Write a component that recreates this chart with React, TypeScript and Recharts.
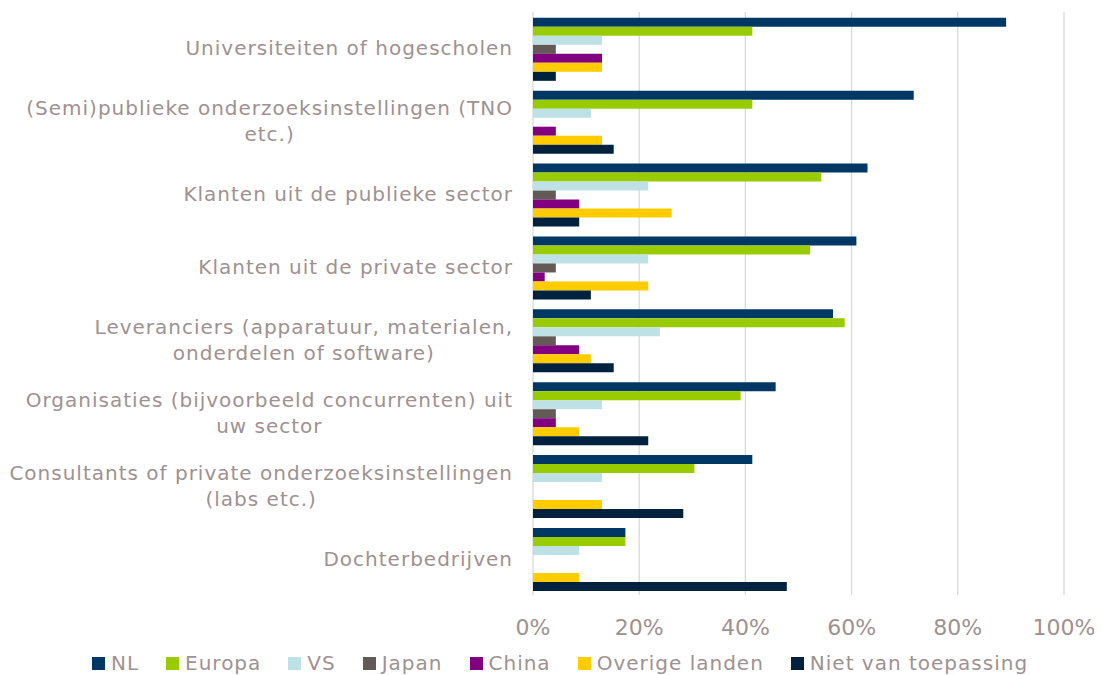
import React from 'react';
import { Bar, BarChart, CartesianGrid, Legend, XAxis, YAxis } from 'recharts';

const categories = [
  'Universiteiten of hogescholen',
  '(Semi)publieke onderzoeksinstellingen (TNO\netc.)',
  'Klanten uit de publieke sector',
  'Klanten uit de private sector',
  'Leveranciers (apparatuur, materialen,\nonderdelen of software)',
  'Organisaties (bijvoorbeeld concurrenten) uit\nuw sector',
  'Consultants of private onderzoeksinstellingen\n(labs etc.)',
  'Dochterbedrijven',
];

const seriesNames = ['NL', 'Europa', 'VS', 'Japan', 'China', 'Overige landen', 'Niet van toepassing'];
const seriesColors = ['#003865', '#99CC00', '#BDE1E4', '#635A57', '#800080', '#FFCC00', '#00223E'];

const nl = [89.1, 71.7, 63.0, 60.9, 56.5, 45.7, 41.3, 17.4];
const europa = [41.3, 41.3, 54.3, 52.2, 58.7, 39.1, 30.4, 17.4];
const vs = [13.0, 10.9, 21.7, 21.7, 23.9, 13.0, 13.0, 8.7];
const japan = [4.3, 0, 4.3, 4.3, 4.3, 4.3, 0, 0];
const china = [13.0, 4.3, 8.7, 2.2, 8.7, 4.3, 0, 0];
const overige = [13.0, 13.0, 26.1, 21.7, 10.9, 8.7, 13.0, 8.7];
const niet = [4.3, 15.2, 8.7, 10.9, 15.2, 21.7, 28.3, 47.8];

const xTicks = [0, 20, 40, 60, 80, 100];

const allSeries = [nl, europa, vs, japan, china, overige, niet];

const data = categories.map((name, i) => {
  const row: Record<string, string | number> = { name };
  seriesNames.forEach((s, j) => {
    row[s] = allSeries[j][i];
  });
  return row;
});

const textColor = '#9E9190';
const font = '"DejaVu Sans", Verdana, sans-serif';
const labelSize = 20;
const labelSpacing = 1;

let measureCtx: CanvasRenderingContext2D | null = null;
function textWidth(s: string) {
  if (!measureCtx) measureCtx = document.createElement('canvas').getContext('2d');
  if (!measureCtx) return s.length * labelSize * 0.6;
  measureCtx.font = `${labelSize}px "DejaVu Sans"`;
  return measureCtx.measureText(s).width + s.length * labelSpacing;
}

// multi-line labels: lines centred on each other, block right-aligned to the axis
function CategoryTick(props: any) {
  const { x, y, payload } = props;
  const lines = String(payload.value).split('\n');
  const lineHeight = 26;
  const startY = y - ((lines.length - 1) * lineHeight) / 2;
  const maxW = Math.max(...lines.map(textWidth));
  const cx = x - maxW / 2;
  return (
    <text
      x={cx}
      y={startY}
      textAnchor="middle"
      fill={textColor}
      fontSize={labelSize}
      fontFamily={font}
      letterSpacing={labelSpacing}
    >
      {lines.map((line, i) => (
        <tspan key={i} x={cx} y={startY + i * lineHeight} dy="0.35em">
          {line}
        </tspan>
      ))}
    </text>
  );
}

function LegendContent() {
  return (
    <div
      style={{
        display: 'flex',
        justifyContent: 'center',
        gap: 27,
        fontFamily: font,
        fontSize: 20,
        letterSpacing: 1,
        color: textColor,
        paddingLeft: 48,
        lineHeight: '24px',
      }}
    >
      {seriesNames.map((s, i) => (
        <span key={s} style={{ display: 'flex', alignItems: 'center', whiteSpace: 'nowrap' }}>
          <span style={{ width: 13, height: 13, background: seriesColors[i], marginRight: 6, display: 'inline-block' }} />
          {s}
        </span>
      ))}
    </div>
  );
}

export default function App() {
  return (
    <div style={{ width: 1094, height: 667 }}>
      <BarChart
        width={1094}
        height={667}
        data={data}
        layout="vertical"
        margin={{ top: 4, right: 38, bottom: 0, left: 0 }}
        barCategoryGap="8%"
        barGap={0}
      >
        <CartesianGrid horizontal={false} stroke="#D9D9D9" strokeWidth={1.3} />
        <XAxis
          type="number"
          domain={[0, 100]}
          ticks={xTicks}
          tickFormatter={(v) => `${v}%`}
          axisLine={false}
          tickLine={false}
          tickSize={0}
          tickMargin={24}
          height={56}
          tick={{ fill: textColor, fontSize: 22, fontFamily: font }}
        />
        <YAxis
          type="category"
          dataKey="name"
          width={525}
          axisLine={false}
          tickLine={false}
          tickSize={0}
          tickMargin={20}
          interval={0}
          tick={<CategoryTick />}
        />
        <Legend verticalAlign="bottom" height={24} content={<LegendContent />} />
        {seriesNames.map((s, i) => (
          <Bar key={s} dataKey={s} fill={seriesColors[i]} isAnimationActive={false} />
        ))}
      </BarChart>
    </div>
  );
}
